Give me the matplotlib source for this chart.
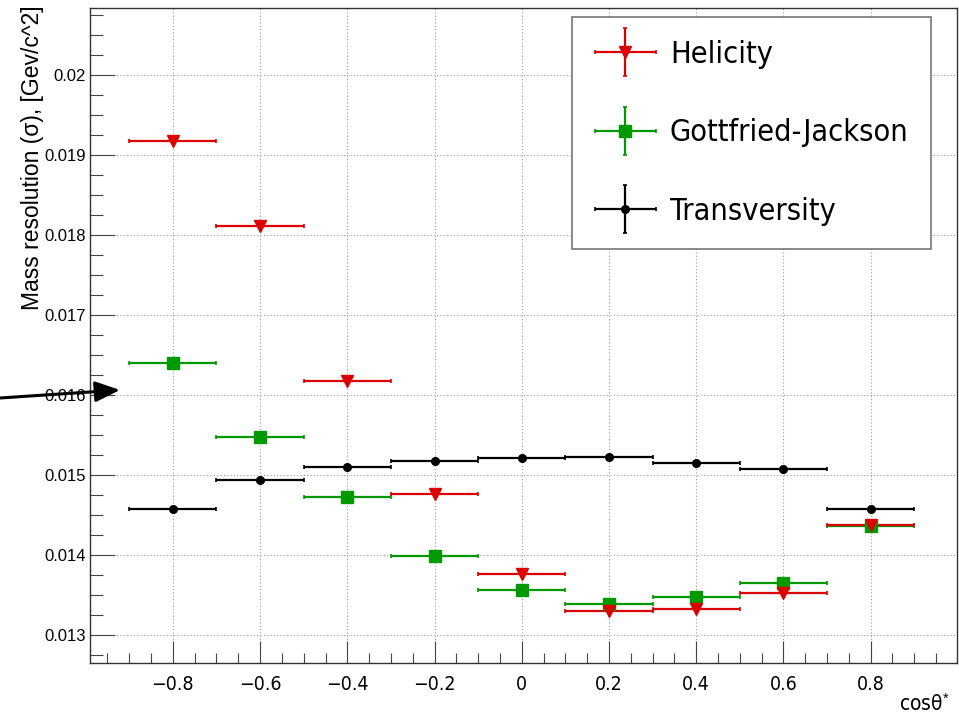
import numpy as np
import matplotlib
matplotlib.use("Agg")
from matplotlib import pyplot as plt
from matplotlib import font_manager
from matplotlib.ticker import MultipleLocator, FuncFormatter
from matplotlib.container import ErrorbarContainer
from matplotlib.legend_handler import HandlerErrorbar

plt.rcParams.update({
    "font.family": ["Liberation Sans", "DejaVu Sans"],
    "mathtext.fontset": "custom",
    "mathtext.rm": "Liberation Sans",
    "mathtext.it": "Liberation Sans:italic",
})

# regular narrow face if available, otherwise plain
narrow_file = None
for f in font_manager.fontManager.ttflist:
    base = f.fname.rsplit("/", 1)[-1]
    if base in ("LiberationSansNarrow-Regular.ttf", "DejaVuSansCondensed.ttf"):
        if narrow_file is None or base.startswith("Liberation"):
            narrow_file = f.fname
if narrow_file:
    narrow = font_manager.FontProperties(fname=narrow_file)
else:
    narrow = font_manager.FontProperties(family="Liberation Sans")

# bin centres in cos(theta*) and bin half-width
cos_bins = [-0.8, -0.6, -0.4, -0.2, 0.0, 0.2, 0.4, 0.6, 0.8]
bin_half = 0.1

helicity = [0.01918, 0.01811, 0.01618, 0.01476, 0.01376, 0.01330, 0.01332, 0.01353, 0.01437]
gottfried = [0.01640, 0.01547, 0.01472, 0.01399, 0.01356, 0.01339, 0.01347, 0.01365, 0.01436]
transversity = [0.01458, 0.01494, 0.01510, 0.01518, 0.01521, 0.01523, 0.01515, 0.01507, 0.01458]
sigma_err = 0.00001

W, H = 959, 717
fig = plt.figure(figsize=(W / 100, H / 100), dpi=100)
ax = fig.add_axes([90 / W, 1 - 663 / H, (957 - 90) / W, (663 - 8) / H])

series = [
    ("Helicity", helicity, "#dd0000", "v", 9),
    ("Gottfried-Jackson", gottfried, "#009a00", "s", 8),
    ("Transversity", transversity, "black", "o", 5.5),
]
handles = []
for name, vals, col, mk, ms in reversed(series):
    h = ax.errorbar(cos_bins, vals, xerr=bin_half, yerr=sigma_err, fmt=mk, color=col,
                    ms=ms, elinewidth=1.6, capsize=1.5, capthick=1.2, label=name)
    handles.append(h)
handles = handles[::-1]

ax.set_xlim(-0.99, 0.998)
ax.set_ylim(0.01265, 0.020838)

ax.xaxis.set_major_locator(MultipleLocator(0.2))
ax.xaxis.set_minor_locator(MultipleLocator(0.05))
ax.yaxis.set_major_locator(MultipleLocator(0.001))
ax.yaxis.set_minor_locator(MultipleLocator(0.00025))
ax.xaxis.set_major_formatter(FuncFormatter(lambda v, p: ("%g" % round(v, 2)).replace("-", "\u2212")))
ax.yaxis.set_major_formatter(FuncFormatter(lambda v, p: "%g" % round(v, 4)))

ax.tick_params(axis="both", which="both", direction="in", top=False, right=False, color="#444444")
ax.tick_params(axis="y", which="major", length=18, width=0.8, pad=3, labelsize=12)
ax.tick_params(axis="y", which="minor", length=9, width=0.8)
ax.tick_params(axis="x", which="major", length=16, width=0.8, pad=9)
ax.tick_params(axis="x", which="minor", length=7, width=0.8)
for lab in ax.get_xticklabels():
    lab.set_fontproperties(narrow)
    lab.set_fontsize(14)

ax.grid(True, which="major", linestyle=(0, (1, 2)), color="#999999", linewidth=0.8)
ax.set_axisbelow(True)
for sp in ax.spines.values():
    sp.set_linewidth(1.0)
    sp.set_color("#333333")

fig.text(33 / W, 1 - 5 / H, "Mass resolution (\u03c3), [Gev/c^2]", rotation=90,
         ha="center", va="top", fontsize=16.5)
fig.text(950 / W, 1 - 715 / H, "cos\u03b8$^{*}$", ha="right", va="bottom",
         fontproperties=narrow, fontsize=15)

leg_prop = narrow.copy()
leg_prop.set_size(22)
leg = ax.legend(handles, [s[0] for s in series], loc="upper left",
                bbox_to_anchor=(572 / W, 1 - 17 / H), bbox_transform=fig.transFigure,
                prop=leg_prop,
                handler_map={ErrorbarContainer: HandlerErrorbar(xerr_size=1.0, yerr_size=0.78)},
                fancybox=False, framealpha=1, edgecolor="#777777",
                borderpad=0.75, labelspacing=1.62, handlelength=2.0, handletextpad=0.45,
                borderaxespad=0)
leg.get_frame().set_linewidth(1.2)

ax.annotate("", xy=(120 / W, 1 - 390 / H), xycoords="figure fraction",
            xytext=(0, 1 - 398 / H), textcoords="figure fraction",
            arrowprops=dict(arrowstyle="-|>,head_length=0.6,head_width=0.25",
                            mutation_scale=25, color="black", lw=2.2, shrinkA=0, shrinkB=0))

fig.savefig("out.png", dpi=100)
